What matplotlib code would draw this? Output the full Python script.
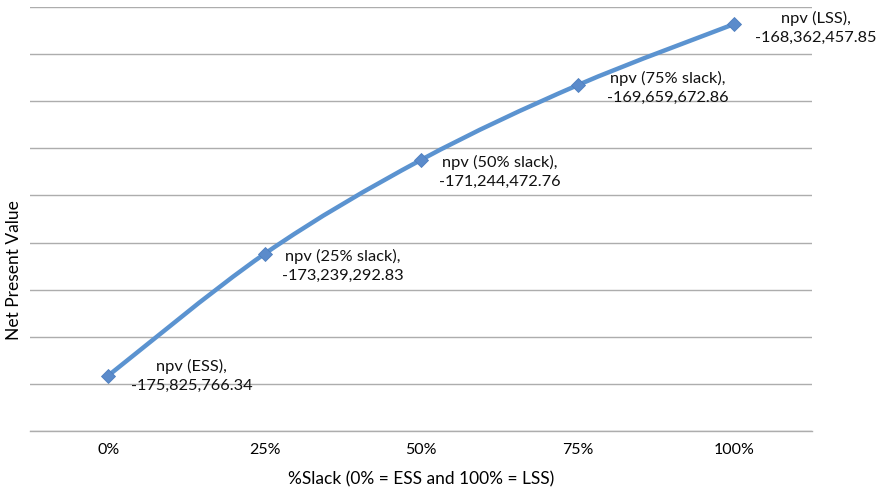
import matplotlib
matplotlib.use("Agg")
import matplotlib.pyplot as plt
from matplotlib.path import Path
from matplotlib.patches import PathPatch
import numpy as np

categories = ["0%", "25%", "50%", "75%", "100%"]
npv_values = [-175825766.34, -173239292.83, -171244472.76, -169659672.86, -168362457.85]
point_names = ["npv (ESS)", "npv (25% slack)", "npv (50% slack)", "npv (75% slack)", "npv (LSS)"]
label_offsets = [(60, 0), (56, -9), (57, -9), (65, -2), (59, -3)]

plt.rcParams['font.family'] = ['Lato', 'DejaVu Sans']

fig = plt.figure(figsize=(8.8, 4.91), dpi=100)
ax = fig.add_axes([0.034, 0.1222, 0.889, 0.8635])

x = np.arange(len(categories))
y = np.array(npv_values) / 1e6

# smooth line (Catmull-Rom as cubic Bezier) through data points
verts = [(x[0], y[0])]
codes = [Path.MOVETO]
n = len(x)
for i in range(n - 1):
    p0 = (x[i - 1], y[i - 1]) if i > 0 else (x[i], y[i])
    p1 = (x[i], y[i])
    p2 = (x[i + 1], y[i + 1])
    p3 = (x[i + 2], y[i + 2]) if i + 2 < n else (x[i + 1], y[i + 1])
    c1 = (p1[0] + (p2[0] - p0[0]) / 6, p1[1] + (p2[1] - p0[1]) / 6)
    c2 = (p2[0] - (p3[0] - p1[0]) / 6, p2[1] - (p3[1] - p1[1]) / 6)
    verts += [c1, c2, p2]
    codes += [Path.CURVE4] * 3
patch = PathPatch(Path(verts, codes), facecolor='none', edgecolor='#5B93D0', lw=3.2,
                  capstyle='round', joinstyle='round', zorder=3)
ax.add_patch(patch)
ax.plot(x, y, linestyle='none', marker='D', markersize=7.5, color='#5B8BCB',
        markeredgecolor='#4F7FBF', markeredgewidth=0.6, zorder=4)

for xi, yi, name, v, off in zip(x, y, point_names, npv_values, label_offsets):
    ax.annotate(f"{name},\n{v:,.2f}", (xi, yi), xytext=off, textcoords='offset points',
                ha='center', va='center', multialignment='center', fontsize=11.8,
                color='#111111', linespacing=1.45, zorder=5)

ax.set_xlim(-0.5, 4.5)
ax.set_ylim(-177, -168)
ax.set_yticks(np.arange(-177, -167.5, 1))
ax.set_yticklabels([])
ax.set_xticks(x)
ax.set_xticklabels(categories, fontsize=11.5)
ax.tick_params(axis='both', length=0, pad=9)
ax.grid(axis='y', color='#ADADAD', lw=1.0)
ax.set_axisbelow(True)
for s in ['left', 'right', 'top']:
    ax.spines[s].set_visible(False)
ax.spines['bottom'].set_color('#ADADAD')
ax.spines['bottom'].set_linewidth(1.0)

ax.set_xlabel("%Slack (0% = ESS and 100% = LSS)", fontsize=12.5, labelpad=10)
fig.text(0.016, 0.45, "Net Present Value", rotation=90, ha='center', va='center', fontsize=12.5)

fig.savefig("out.png", dpi=100)
